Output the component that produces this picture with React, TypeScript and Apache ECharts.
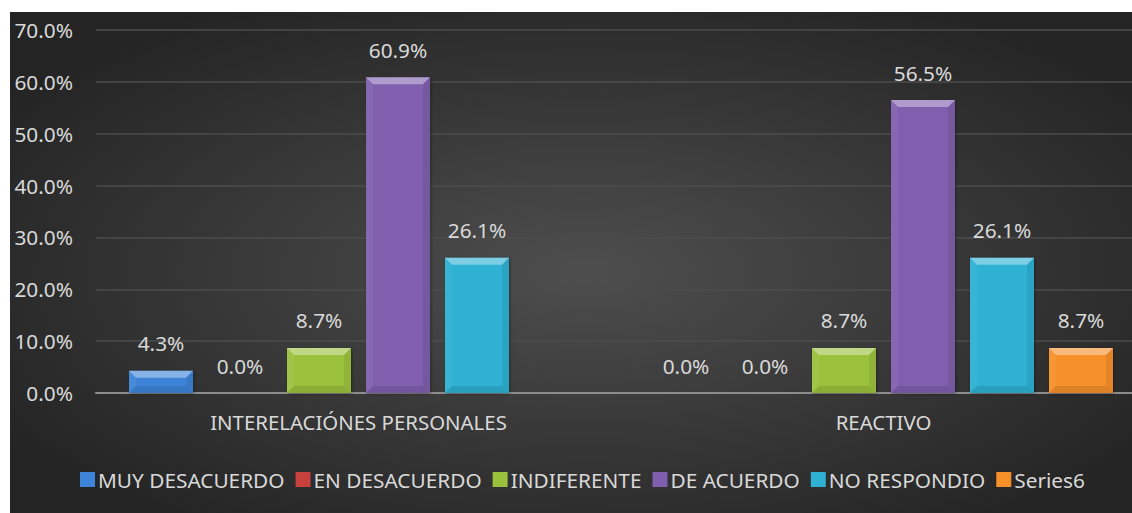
import React, { useEffect, useRef } from "react";
import * as echarts from "echarts";

const categories = ["INTERELACIÓNES PERSONALES", "REACTIVO"];
const seriesNames = ["MUY DESACUERDO", "EN DESACUERDO", "INDIFERENTE", "DE ACUERDO", "NO RESPONDIO", "Series6"];
const muyDesacuerdo = [4.3, 0];
const enDesacuerdo = [0, 0];
const indiferente = [8.7, 8.7];
const deAcuerdo = [60.9, 56.5];
const noRespondio = [26.1, 26.1];
const series6: (number | null)[] = [null, 8.7];
const yMax = 70;
const yInterval = 10;

const seriesValues = [muyDesacuerdo, enDesacuerdo, indiferente, deAcuerdo, noRespondio, series6];
const colors = ["#3d84d8", "#c9413c", "#9bc13c", "#7f5eae", "#2fb1d3", "#f59029"];

const FONT = "Noto Sans";
const TEXT = "#d9d9d9";
const FS = 20.8;
const BAR_W = 64;
const BAR_GAP = 15;

export default function App() {
  const ref = useRef<HTMLDivElement>(null);
  useEffect(() => {
    if (!ref.current) return;
    const chart = echarts.init(ref.current, null, { renderer: "svg" });

    const barSeries = seriesNames.map((name, i) => ({
      name,
      type: "bar",
      data: seriesValues[i],
      barWidth: BAR_W,
      barGap: (BAR_GAP / BAR_W) * 100 + "%",
      itemStyle: { color: colors[i], shadowColor: "rgba(0,0,0,0.35)", shadowBlur: 3, shadowOffsetX: 1, shadowOffsetY: 1 },
      label: {
        show: true,
        position: "top",
        distance: 17,
        color: TEXT,
        fontFamily: FONT,
        fontSize: FS,
        formatter: (p: any) => (p.value == null ? "" : Number(p.value).toFixed(1) + "%"),
      },
      z: 2,
    }));

    const bevelData: any[] = [];
    seriesValues.forEach((vals, si) => {
      vals.forEach((v, ci) => {
        if (v != null && v > 0) bevelData.push([ci, v, si]);
      });
    });

    const bevelSeries = {
      type: "custom",
      silent: true,
      z: 5,
      data: bevelData,
      encode: { x: 0, y: 1 },
      renderItem: (params: any, api: any) => {
        const ci = api.value(0);
        const v = api.value(1);
        const si = api.value(2);
        const top = api.coord([ci, v]);
        const base = api.coord([ci, 0]);
        const cx = top[0] + (si - 2.5) * (BAR_W + BAR_GAP);
        const x0 = cx - BAR_W / 2;
        const x1 = cx + BAR_W / 2;
        const y0 = top[1];
        const y1 = base[1];
        const h = y1 - y0;
        const b = Math.min(7, h / 2);
        return {
          type: "group",
          children: [
            { type: "polygon", shape: { points: [[x0, y0], [x1, y0], [x1 - b, y0 + b], [x0 + b, y0 + b]] }, style: { fill: "rgba(255,255,255,0.38)" } },
            { type: "polygon", shape: { points: [[x0, y0], [x0 + b, y0 + b], [x0 + b, y1 - b], [x0, y1]] }, style: { fill: "rgba(255,255,255,0.05)" } },
            { type: "polygon", shape: { points: [[x1, y0], [x1, y1], [x1 - b, y1 - b], [x1 - b, y0 + b]] }, style: { fill: "rgba(0,0,0,0.07)" } },
            { type: "polygon", shape: { points: [[x0, y1], [x0 + b, y1 - b], [x1 - b, y1 - b], [x1, y1]] }, style: { fill: "rgba(0,0,0,0.10)" } },
          ],
        };
      },
    };

    chart.setOption({
      animation: false,
      color: colors,
      graphic: [
        {
          type: "rect",
          z: -10,
          silent: true,
          shape: { x: 10, y: 12, width: 1150, height: 520 },
          style: {
            fill: {
              type: "radial",
              x: 0.5,
              y: 0.5,
              r: 0.6,
              colorStops: [
                { offset: 0, color: "#4e4e4e" },
                { offset: 1, color: "#242424" },
              ],
            },
          },
        },
      ],
      grid: { left: 96, right: 14, top: 30, bottom: 120, containLabel: false },
      legend: {
        data: seriesNames,
        left: 75,
        top: 464,
        icon: "rect",
        itemWidth: 15,
        itemHeight: 15,
        itemGap: 11,
        textStyle: { color: TEXT, fontFamily: FONT, fontSize: FS, padding: [0, 0, 0, -2] },
      },
      xAxis: {
        type: "category",
        data: categories,
        axisLine: { lineStyle: { color: "#8c8c8c", width: 2 } },
        axisTick: { show: false },
        axisLabel: { color: TEXT, fontFamily: FONT, fontSize: 20.4, margin: 19 },
      },
      yAxis: {
        type: "value",
        min: 0,
        max: yMax,
        interval: yInterval,
        axisLine: { show: false },
        axisTick: { show: false },
        splitLine: { lineStyle: { color: "#4d4d4d", width: 1.5 } },
        axisLabel: {
          color: TEXT,
          fontFamily: FONT,
          fontSize: FS,
          margin: 23,
          formatter: (v: number) => v.toFixed(1) + "%",
        },
      },
      series: [...barSeries, bevelSeries],
    });
    return () => chart.dispose();
  }, []);
  return (
    <div style={{ position: "fixed", left: 0, top: 0, width: 1132, height: 513, background: "#fff", overflow: "hidden" }}>
      <div ref={ref} style={{ width: 1160, height: 513 }} />
    </div>
  );
}
